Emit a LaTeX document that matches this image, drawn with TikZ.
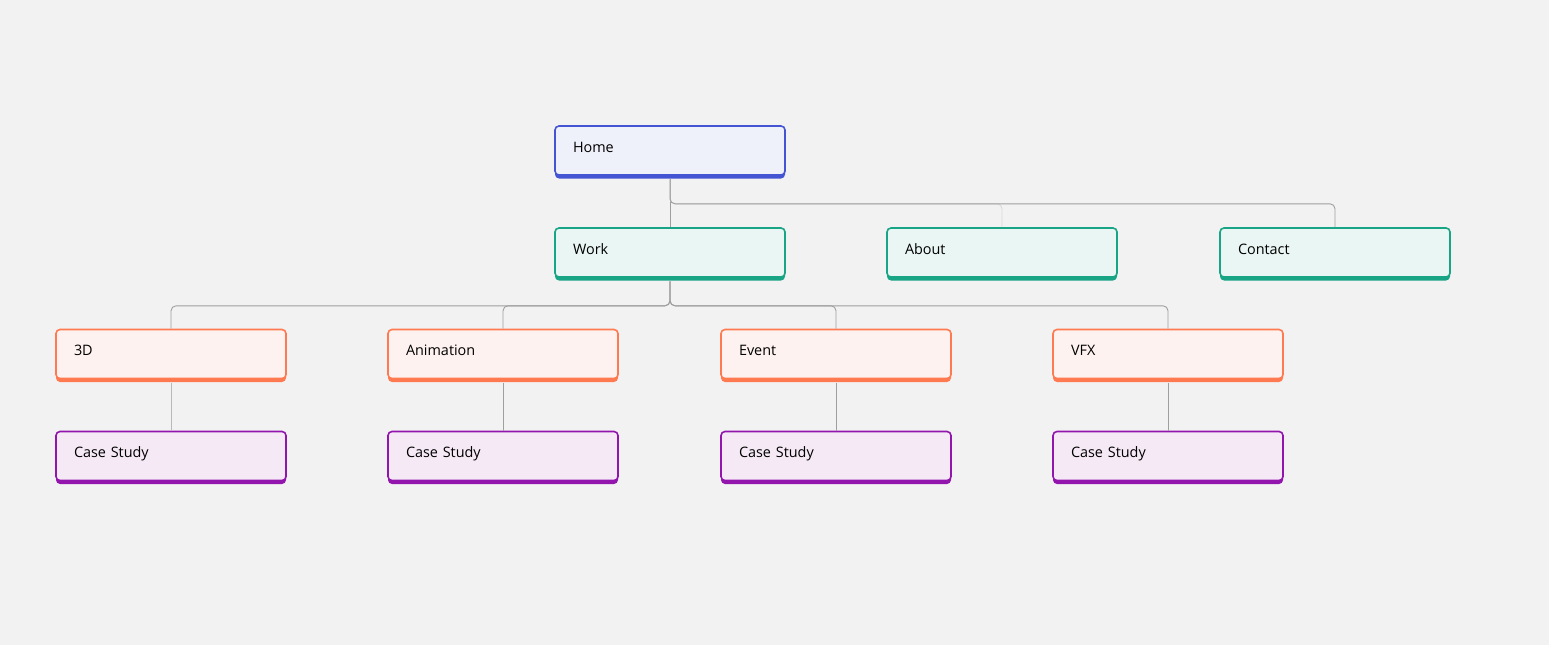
\documentclass[tikz,border=0pt]{standalone}
\usepackage{fontspec}
\setmainfont{Open Sans}
\definecolor{bg}{HTML}{F2F2F2}
\definecolor{homeline}{HTML}{4455D4}
\definecolor{homefill}{HTML}{EEF1FA}
\definecolor{pageline}{HTML}{17A585}
\definecolor{pagefill}{HTML}{EAF6F3}
\definecolor{catline}{HTML}{FF7A50}
\definecolor{catfill}{HTML}{FDF2EF}
\definecolor{caseline}{HTML}{9215AE}
\definecolor{casefill}{HTML}{F5E9F6}
\tikzset{
  card/.style n args={2}{draw=#1, fill=#2, line width=1.6pt, rounded corners=4pt,
    preaction={fill=#1, transform canvas={yshift=-3.5pt}},
    text width=194pt, align=left, inner xsep=18pt, inner ysep=5pt,
    text height=21pt, text depth=18pt, font=\fontsize{14.4}{16}\selectfont},
  conn/.style={draw=gray!75, line width=0.9pt, rounded corners=5pt},
  faint/.style={draw=gray!30, line width=0.9pt, rounded corners=5pt}
}
\begin{document}
\begin{tikzpicture}[x=1pt, y=-1pt]
    \fill[bg] (0,0) rectangle (1549,645);

    % site map
    \node[card={homeline}{homefill}] (home) at (670,150.5) {Home};
    \node[card={pageline}{pagefill}] (work) at (670,252.5) {Work};
    \node[card={pageline}{pagefill}] (about) at (1002,252.5) {About};
    \node[card={pageline}{pagefill}] (contact) at (1335,252.5) {Contact};

    \foreach \name/\label/\x in {threed/3D/171, anim/Animation/503, event/Event/836, vfx/VFX/1168} {
        \node[card={catline}{catfill}] (\name) at (\x,354) {\label};
        \node[card={caseline}{casefill}] (\name-case) at (\x,456) {Case Study};
    }

    % connectors (start under the bottom bar)
    \draw[conn] ([yshift=-3.5pt]home.south) -- (work.north);
    \draw[faint] ([yshift=-3.5pt]home.south) -- ++(0,24.5) -| (about.north);
    \draw[conn] ([yshift=-3.5pt]home.south) -- ++(0,24.5) -| (contact.north);
    \foreach \name in {threed, anim, event, vfx} {
        \draw[conn] ([yshift=-3.5pt]work.south) -- ++(0,24.5) -| (\name.north);
    }
    \draw[faint, draw=gray!55] ([yshift=-3.5pt]threed.south) -- (threed-case.north);
    \foreach \name in {anim, event, vfx} {
        \draw[conn] ([yshift=-3.5pt]\name.south) -- (\name-case.north);
    }
\end{tikzpicture}
\end{document}
